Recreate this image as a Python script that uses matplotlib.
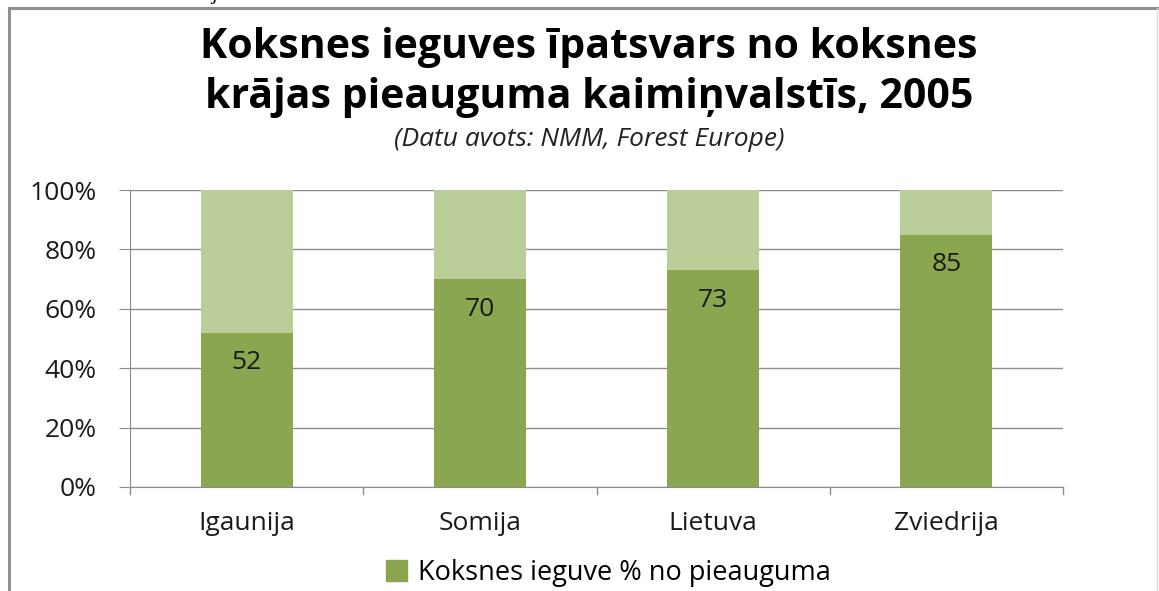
import matplotlib
matplotlib.use("Agg")
import matplotlib.pyplot as plt
from matplotlib.patches import Patch
from matplotlib.lines import Line2D

categories = ["Igaunija", "Somija", "Lietuva", "Zviedrija"]
harvest = [52, 70, 73, 85]
remainder = [100 - v for v in harvest]
yticks = [0, 20, 40, 60, 80, 100]
ytick_labels = ["0%", "20%", "40%", "60%", "80%", "100%"]

dark = "#8AA64E"
light = "#BBCE9A"
grid = "#8C8C8C"
font = ["Open Sans", "DejaVu Sans"]
fs = 19

W, H = 1159, 591
fig = plt.figure(figsize=(W / 100, H / 100), dpi=100)
fig.patch.set_facecolor("white")

# outer frame
fig.add_artist(Line2D([9 / W, 9 / W], [0, 1 - 8 / H], color="#8F8F8F", lw=2.2, transform=fig.transFigure))
fig.add_artist(Line2D([9 / W, 1], [1 - 8 / H, 1 - 8 / H], color="#8F8F8F", lw=2.2, transform=fig.transFigure))
fig.add_artist(Line2D([1157 / W, 1157 / W], [0, 1 - 8 / H], color="#DADADA", lw=1.0, transform=fig.transFigure))
fig.text(200 / W, 1 + 6 / H, "latvija", family="Liberation Serif", fontsize=16, ha="center", va="center")

ax = fig.add_axes([130 / W, 1 - 487 / H, (1063 - 130) / W, (487 - 190) / H])
x = list(range(len(categories)))
ax.bar(x, harvest, width=0.395, color=dark, zorder=3)
ax.bar(x, remainder, bottom=harvest, width=0.395, color=light, zorder=3)
for xi, v in zip(x, harvest):
    ax.annotate(str(v), (xi, v), xytext=(0, -30), textcoords="offset pixels",
                ha="center", va="center", fontsize=fs, family=font, color="#1a1a1a", zorder=4)

ax.set_xlim(-0.5, len(categories) - 0.5)
ax.set_ylim(0, 100)
ax.set_yticks(yticks)
ax.set_yticklabels(ytick_labels, family=font, fontsize=fs, color="#1a1a1a")
ax.set_xticks(x)
ax.set_xticklabels(categories, family=font, fontsize=fs, color="#1a1a1a")
ax.tick_params(axis="x", length=0, pad=17)
ax.tick_params(axis="y", length=8, color=grid, pad=16)
for b in range(len(categories) + 1):
    ax.add_line(Line2D([b - 0.5, b - 0.5], [0, -2.2], color=grid, lw=1, clip_on=False))
ax.yaxis.grid(True, color=grid, lw=1, zorder=0)
for s in ["top", "right"]:
    ax.spines[s].set_visible(False)
ax.spines["left"].set_color(grid)
ax.spines["bottom"].set_color(grid)

fig.text(0.508, 1 - 48 / H, "Koksnes ieguves īpatsvars no koksnes", ha="center", va="center",
         fontsize=29.5, fontweight="bold", family=font)
fig.text(0.508, 1 - 98 / H, "krājas pieauguma kaimiņvalstīs, 2005", ha="center", va="center",
         fontsize=29.5, fontweight="bold", family=font)
fig.text(0.508, 1 - 140 / H, "(Datu avots: NMM, Forest Europe)", ha="center", va="center",
         fontsize=19, style="italic", family=font, color="#222222")

fig.legend(handles=[Patch(color=dark, label="Koksnes ieguve % no pieauguma")],
           loc="center", bbox_to_anchor=(0.525, 1 - 573 / H), frameon=False,
           prop={"family": font, "size": 19.5}, handlelength=0.8, handleheight=0.8, handletextpad=0.4)

fig.savefig("out.png", dpi=100)
